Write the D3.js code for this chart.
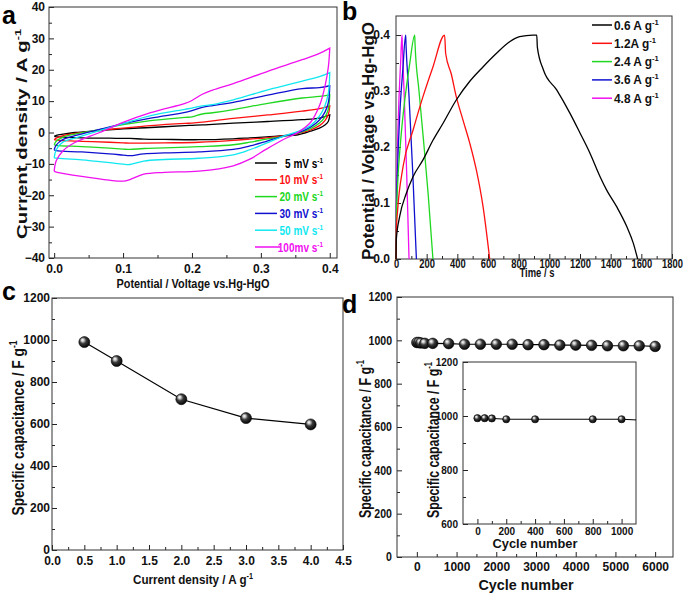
<!DOCTYPE html>
<html><head><meta charset="utf-8">
<script src="https://cdn.jsdelivr.net/npm/d3@7/dist/d3.min.js"></script>
<style>body{margin:0;background:#fff}</style>
</head><body><svg id="chart" width="685" height="593"></svg>
<script>
// ---------------- DATA ----------------
// (a) cyclic voltammetry: potential grids for the anodic (up) and cathodic (down) branches
const cvPotUp   = [0, 0.003, 0.013, 0.03, 0.066, 0.1, 0.14, 0.19, 0.2, 0.215, 0.23, 0.26, 0.31, 0.36, 0.385, 0.4];
const cvPotDown = [0.4, 0.398, 0.393, 0.385, 0.372, 0.352, 0.332, 0.308, 0.284, 0.26, 0.21, 0.16, 0.13, 0.11, 0.1, 0.08, 0.04, 0.003];
const cvUp5    = [-1.2, -0.9, -0.5, 0.0, 0.6, 1.2, 1.6, 2.2, 2.3, 2.4, 2.6, 3.0, 3.5, 4.1, 4.6, 5.6];
const cvDown5  = [5.6, 3.6, 2.4, 1.4, 0.4, -0.8, -1.0, -1.4, -1.7, -2.0, -2.3, -2.2, -2.1, -1.9, -1.9, -1.8, -1.7, -1.3];
const cvUp10   = [-2.3, -1.8, -1.0, -0.3, 0.7, 1.4, 2.2, 2.9, 3.0, 3.3, 3.7, 4.5, 5.6, 6.8, 7.6, 8.5];
const cvDown10 = [8.5, 5.8, 3.8, 2.2, 0.8, -0.4, -1.1, -1.7, -2.1, -2.5, -3.1, -3.3, -3.4, -3.4, -3.3, -3.1, -2.8, -2.4];
const cvUp20   = [-3.9, -2.8, -1.5, -0.5, 0.9, 2.5, 3.8, 4.8, 5.0, 5.9, 6.3, 7.3, 9.3, 11.0, 11.5, 12.0];
const cvDown20 = [12.0, 7.5, 5.0, 3.0, 1.2, -0.3, -1.2, -2.1, -3.1, -3.9, -4.5, -4.9, -5.1, -5.4, -5.3, -5.0, -4.5, -4.1];
const cvUp30   = [-5.5, -4.0, -2.2, -1.0, 1.0, 2.8, 4.6, 6.4, 7.0, 8.0, 8.6, 9.6, 11.9, 14.0, 14.3, 14.9];
const cvDown30 = [14.9, 9.6, 6.5, 4.0, 1.7, -0.2, -1.2, -2.8, -4.3, -5.4, -6.2, -6.5, -6.8, -7.4, -7.2, -6.8, -6.2, -5.8];
const cvUp50   = [-8.1, -5.5, -3.0, -1.8, 0.6, 2.8, 5.4, 7.4, 7.8, 8.5, 8.9, 10.4, 13.6, 16.4, 17.8, 19.1];
const cvDown50 = [19.1, 12.6, 8.5, 5.2, 2.2, 0.2, -1.2, -3.4, -5.5, -7.1, -8.2, -8.6, -9.1, -10.2, -10.1, -9.6, -8.7, -8.2];
const cvUp100  = [-12.4, -9.0, -5.8, -3.2, 0.0, 3.2, 6.3, 9.3, 10.2, 12.2, 13.5, 15.6, 19.5, 23.2, 25.2, 26.9];
const cvDown100= [26.9, 21.0, 14.7, 8.5, 3.2, -0.2, -2.3, -5.3, -8.5, -10.6, -12.3, -12.7, -13.3, -15.0, -15.5, -15.2, -14.0, -12.6];
const cvLabels = ["5 mV s", "10 mV s", "20 mV s", "30 mV s", "50 mV s", "100mv s"];
const cvColors = ["#000000", "#ff1010", "#20d820", "#1010d0", "#10e8f0", "#f010f0"];
const cvXTicks = [0.0, 0.1, 0.2, 0.3, 0.4];
const cvYTicks = [-40, -30, -20, -10, 0, 10, 20, 30, 40];

// (b) galvanostatic charge-discharge
const gcdTime06 = [0, 2, 24, 67, 111, 176, 241, 306, 393, 480, 567, 654, 741, 806, 893, 918, 922, 961, 1048, 1135, 1200, 1265, 1331, 1374, 1440, 1505, 1548, 1576];
const gcdPot06  = [0, 0.035, 0.076, 0.117, 0.147, 0.177, 0.212, 0.242, 0.284, 0.317, 0.343, 0.367, 0.388, 0.397, 0.4, 0.4, 0.378, 0.338, 0.302, 0.26, 0.225, 0.189, 0.147, 0.123, 0.093, 0.058, 0.028, 0];
const gcdTime12 = [0, 2, 10, 46, 111, 176, 241, 317, 324, 361, 393, 437, 481, 524, 568, 611];
const gcdPot12  = [0, 0.05, 0.085, 0.165, 0.23, 0.29, 0.343, 0.4, 0.367, 0.33, 0.29, 0.248, 0.207, 0.159, 0.093, 0];
const gcdTime24 = [0, 2, 10, 30, 60, 90, 122, 124, 150, 180, 210, 241];
const gcdPot24  = [0, 0.07, 0.13, 0.21, 0.29, 0.35, 0.4, 0.385, 0.3, 0.21, 0.115, 0];
const gcdTime36 = [0, 2, 10, 25, 45, 63, 65, 85, 110, 133];
const gcdPot36  = [0, 0.07, 0.16, 0.26, 0.34, 0.4, 0.385, 0.29, 0.15, 0];
const gcdTime48 = [0, 2, 8, 20, 30, 39, 41, 55, 70, 85];
const gcdPot48  = [0, 0.08, 0.18, 0.29, 0.35, 0.4, 0.385, 0.28, 0.15, 0];
const gcdLabels = ["0.6 A g", "1.2A g", "2.4 A g", "3.6 A g", "4.8 A g"];
const gcdColors = ["#000000", "#ff1010", "#20d820", "#1010d0", "#f010f0"];
const gcdXTicks = [0, 200, 400, 600, 800, 1000, 1200, 1400, 1600, 1800];
const gcdYTicks = [0.0, 0.1, 0.2, 0.3, 0.4];

// (c) specific capacitance vs current density
const rateDensity = [0.5, 1.0, 2.0, 3.0, 4.0];
const rateCap     = [990, 900, 718, 628, 598];
const rateXTicks = [0.0, 0.5, 1.0, 1.5, 2.0, 2.5, 3.0, 3.5, 4.0, 4.5];
const rateYTicks = [0, 200, 400, 600, 800, 1000, 1200];

// (d) cycling stability
const cycleNum = [0, 50, 100, 200, 400, 800, 1200, 1600, 2000, 2400, 2800, 3200, 3600, 4000, 4400, 4800, 5200, 5600, 6000];
const cycleCap = [990, 990, 988, 986, 986, 985, 982, 982, 982, 982, 980, 980, 978, 978, 977, 975, 975, 975, 972];
const cycleXTicks = [0, 1000, 2000, 3000, 4000, 5000, 6000];
const cycleYTicks = [0, 200, 400, 600, 800, 1000, 1200];
// inset (first 1000 cycles)
const insetNum = [0, 50, 100, 200, 400, 800, 1000, 1200];
const insetCap = [992, 992, 991, 988, 988, 988, 988, 983];
const insetMarked = 7; // first 7 points carry markers
const insetXTicks = [0, 200, 400, 600, 800, 1000];
const insetYTicks = [600, 800, 1000, 1200];

// ---------------- DRAWING ----------------
const FONT = '"Liberation Sans", Arial, Helvetica, sans-serif';
const svg = d3.select("#chart");
svg.append("rect").attr("width", 685).attr("height", 593).attr("fill", "#fff");
const defs = svg.append("defs");
const rg = defs.append("radialGradient").attr("id", "ball")
  .attr("cx", "0.42").attr("cy", "0.4").attr("r", "0.6").attr("fx", "0.33").attr("fy", "0.3");
rg.append("stop").attr("offset", "0").attr("stop-color", "#ffffff");
rg.append("stop").attr("offset", "0.2").attr("stop-color", "#c8c8c8");
rg.append("stop").attr("offset", "0.5").attr("stop-color", "#3a3a3a");
rg.append("stop").attr("offset", "1").attr("stop-color", "#050505");

// squeeze/stretch a text to a given length while keeping its anchor point
function fitText(node, target) {
  const L = node.getComputedTextLength();
  if (!(L > 0)) return;
  const len = target === undefined ? L : target;
  const anchor = node.getAttribute("text-anchor") || getComputedStyle(node).textAnchor || "start";
  const x0 = +(node.getAttribute("x") || 0);
  const shift = anchor === "middle" ? len / 2 : anchor === "end" ? len : 0;
  node.setAttribute("text-anchor", "start");
  node.setAttribute("x", x0 - shift);
  node.setAttribute("textLength", len);
  node.setAttribute("lengthAdjust", "spacingAndGlyphs");
}
function condense(sel, f) {
  sel.each(function () { const L = this.getComputedTextLength(); if (L > 0) fitText(this, L * f); });
}

function drawAxes(x, y, o) {
  const [xl, xr] = x.range(); const [yb, yt] = y.range();
  const g = svg.append("g");
  const mk = (axis, tr) => {
    const a = g.append("g").attr("transform", tr).call(axis);
    a.select(".domain").remove();
    a.selectAll("line").attr("stroke", "#222").attr("stroke-width", 1);
    a.attr("font-family", FONT).attr("font-size", o.fs).attr("font-weight", "bold");
    a.selectAll("text").attr("fill", "#111");
    return a;
  };
  mk(d3.axisBottom(x).tickValues(o.xMinor).tickSize(-3).tickFormat(""), `translate(0,${yb})`);
  const ax = mk(d3.axisBottom(x).tickValues(o.xMajor).tickSize(-5).tickPadding(o.xPad).tickFormat(o.xFmt), `translate(0,${yb})`);
  mk(d3.axisLeft(y).tickValues(o.yMinor).tickSize(-3).tickFormat(""), `translate(${xl},0)`);
  const ay = mk(d3.axisLeft(y).tickValues(o.yMajor).tickSize(-5).tickPadding(o.yPad).tickFormat(o.yFmt), `translate(${xl},0)`);
  ax.selectAll("text").attr("text-anchor", "middle");
  ay.selectAll("text").attr("text-anchor", "end");
  g.append("rect").attr("x", xl).attr("y", yt).attr("width", xr - xl).attr("height", yb - yt)
    .attr("fill", "none").attr("stroke", "#333").attr("stroke-width", 1);
  return { ax, ay };
}

function title(x, y, rot, text, sup, size, len) {
  const t = svg.append("text").attr("transform", `translate(${x},${y}) rotate(${rot})`)
    .attr("x", 0).attr("y", 0)
    .attr("text-anchor", "middle").attr("font-family", FONT).attr("font-weight", "bold")
    .attr("font-size", size).attr("fill", "#111");
  t.append("tspan").text(text);
  if (sup) t.append("tspan").attr("dy", -size * 0.4).attr("font-size", size * 0.62).text(sup);
  fitText(t.node(), len);
  return t;
}
function letter(x, y, s) {
  svg.append("text").attr("x", x).attr("y", y).attr("font-family", FONT).attr("font-weight", "bold")
    .attr("font-size", 25).attr("fill", "#000").text(s);
}
function balls(g, xs, ys, x, y, r) {
  g.selectAll(null).data(xs).enter().append("circle")
    .attr("cx", d => x(d)).attr("cy", (d, i) => y(ys[i])).attr("r", r)
    .attr("fill", "url(#ball)").attr("stroke", "#000").attr("stroke-width", 0.6);
}

// ----- panel a -----
{
  const x = d3.scaleLinear().domain([-0.0075, 0.4105]).range([49, 337]);
  const y = d3.scaleLinear().domain([-40, 40]).range([258, 7]);
  drawAxes(x, y, {
    xMajor: cvXTicks, xMinor: d3.range(0.05, 0.4, 0.1), yMajor: cvYTicks, yMinor: d3.range(-35, 40, 10),
    xFmt: d3.format(".1f"), yFmt: d3.format("d"), fs: 12, xPad: 6, yPad: 4
  });
  const ups = [cvUp5, cvUp10, cvUp20, cvUp30, cvUp50, cvUp100];
  const downs = [cvDown5, cvDown10, cvDown20, cvDown30, cvDown50, cvDown100];
  const line = d3.line().x(d => x(d[0])).y(d => y(d[1])).curve(d3.curveCatmullRom.alpha(0.5));
  ups.forEach((u, k) => {
    const pts = cvPotUp.map((v, i) => [v, u[i]]).concat(cvPotDown.map((v, i) => [v, downs[k][i]]));
    pts.push(pts[0]);
    svg.append("path").attr("d", line(pts)).attr("fill", "none").attr("stroke", cvColors[k]).attr("stroke-width", 1.3);
  });
  const leg = svg.append("g");
  cvLabels.forEach((l, i) => {
    const yy = 163 + i * 16.8;
    leg.append("line").attr("x1", 255).attr("x2", i === 5 ? 280 : 277).attr("y1", yy).attr("y2", yy)
      .attr("stroke", cvColors[i]).attr("stroke-width", 1.5);
    const t = leg.append("text").attr("x", 323).attr("y", yy + 4.5).attr("text-anchor", "end")
      .attr("font-family", FONT).attr("font-weight", "bold").attr("font-size", 12.5).attr("fill", cvColors[i]);
    t.append("tspan").text(l);
    t.append("tspan").attr("dy", -5).attr("font-size", 8).text("-1");
    condense(t, 0.8);
  });
  title(27, 134, -90, "Current density / A g", "-1", 15, 210);
  title(193, 288, 0, "Potential / Voltage vs.Hg-HgO", null, 13, 153);
  letter(2, 24, "a");
}

// ----- panel b -----
{
  const x = d3.scaleLinear().domain([0, 1800]).range([396, 672]);
  const y = d3.scaleLinear().domain([0, 0.434]).range([259, 16]);
  const { ax } = drawAxes(x, y, {
    xMajor: gcdXTicks, xMinor: d3.range(100, 1800, 200), yMajor: gcdYTicks, yMinor: [0.05, 0.15, 0.25, 0.35],
    xFmt: d3.format("d"), yFmt: d3.format(".1f"), fs: 12, xPad: 0, yPad: 6
  });
  condense(ax.selectAll("text"), 0.78);
  const times = [gcdTime06, gcdTime12, gcdTime24, gcdTime36, gcdTime48];
  const pots = [gcdPot06, gcdPot12, gcdPot24, gcdPot36, gcdPot48];
  const line = d3.line().x(d => x(d[0])).y(d => y(d[1])).curve(d3.curveMonotoneX);
  for (let k = times.length - 1; k >= 0; k--) {
    const pts = times[k].map((t, i) => [t, pots[k][i]]);
    svg.append("path").attr("d", line(pts)).attr("fill", "none").attr("stroke", gcdColors[k]).attr("stroke-width", 1.3);
  }
  gcdLabels.forEach((l, i) => {
    const yy = 25 + i * 18.3;
    svg.append("line").attr("x1", 592).attr("x2", 612).attr("y1", yy).attr("y2", yy)
      .attr("stroke", gcdColors[i]).attr("stroke-width", 1.5);
    const t = svg.append("text").attr("x", 614).attr("y", yy + 4.5)
      .attr("font-family", FONT).attr("font-weight", "bold").attr("font-size", 12.5).attr("fill", "#111");
    t.append("tspan").text(l);
    t.append("tspan").attr("dy", -5).attr("font-size", 8).text("-1");
    condense(t, 0.95);
  });
  title(374, 141, -90, "Potential / Voltage vs.Hg-HgO", null, 16, 238);
  title(537, 277, 0, "Time / s", null, 13, 35);
  letter(342, 20, "b");
}

// ----- panel c -----
{
  const x = d3.scaleLinear().domain([0, 4.5]).range([52, 343]);
  const y = d3.scaleLinear().domain([0, 1200]).range([550, 298]);
  drawAxes(x, y, {
    xMajor: rateXTicks, xMinor: d3.range(0.25, 4.5, 0.5), yMajor: rateYTicks, yMinor: d3.range(100, 1200, 200),
    xFmt: d3.format(".1f"), yFmt: d3.format("d"), fs: 12, xPad: 6, yPad: 2
  });
  const line = d3.line().x(d => x(d[0])).y(d => y(d[1]));
  svg.append("path").attr("d", line(rateDensity.map((v, i) => [v, rateCap[i]])))
    .attr("fill", "none").attr("stroke", "#000").attr("stroke-width", 1.2);
  balls(svg.append("g"), rateDensity, rateCap, x, y, 5.5);
  title(24, 428, -90, "Specific capacitance / F g", "-1", 17, 175);
  title(193, 584, 0, "Current density / A g", "-1", 13.5, 120);
  letter(2, 300, "c");
}

// ----- panel d -----
{
  const x = d3.scaleLinear().domain([-500, 6450]).range([397, 673]);
  const y = d3.scaleLinear().domain([0, 1200]).range([557, 297]);
  const { ay } = drawAxes(x, y, {
    xMajor: cycleXTicks, xMinor: d3.range(500, 6000, 1000), yMajor: cycleYTicks, yMinor: d3.range(100, 1200, 200),
    xFmt: d3.format("d"), yFmt: d3.format("d"), fs: 12, xPad: 5, yPad: 5
  });
  condense(ay.selectAll("text"), 0.88);
  const line = d3.line().x(d => x(d[0])).y(d => y(d[1]));
  svg.append("path").attr("d", line(cycleNum.map((v, i) => [v, cycleCap[i]])))
    .attr("fill", "none").attr("stroke", "#000").attr("stroke-width", 1.2);
  balls(svg.append("g"), cycleNum, cycleCap, x, y, 5.3);
  title(371, 439, -90, "Specific capacitance / F g", "-1", 17, 158);
  title(526, 590, 0, "Cycle number", null, 14, 95);
  letter(342, 313, "d");

  // inset
  const xi = d3.scaleLinear().domain([-100, 1100]).range([463, 636]);
  const yi = d3.scaleLinear().domain([600, 1200]).range([524, 362]);
  svg.append("rect").attr("x", 463).attr("y", 362).attr("width", 173).attr("height", 162).attr("fill", "#fff");
  drawAxes(xi, yi, {
    xMajor: insetXTicks, xMinor: d3.range(100, 1100, 200), yMajor: insetYTicks, yMinor: [700, 900, 1100],
    xFmt: d3.format("d"), yFmt: d3.format("d"), fs: 10, xPad: 4, yPad: 5
  });
  defs.append("clipPath").attr("id", "insetClip").append("rect")
    .attr("x", 463).attr("y", 362).attr("width", 173).attr("height", 162);
  const li = d3.line().x(d => xi(d[0])).y(d => yi(d[1]));
  svg.append("path").attr("clip-path", "url(#insetClip)")
    .attr("d", li(insetNum.map((v, i) => [v, insetCap[i]])))
    .attr("fill", "none").attr("stroke", "#000").attr("stroke-width", 1);
  balls(svg.append("g"), insetNum.slice(0, insetMarked), insetCap, xi, yi, 3.6);
  title(439, 440, -90, "Specific capacitance / F g", "-1", 16.5, 156);
  title(535, 548, 0, "Cycle number", null, 13, 85);
}
</script></body></html>
